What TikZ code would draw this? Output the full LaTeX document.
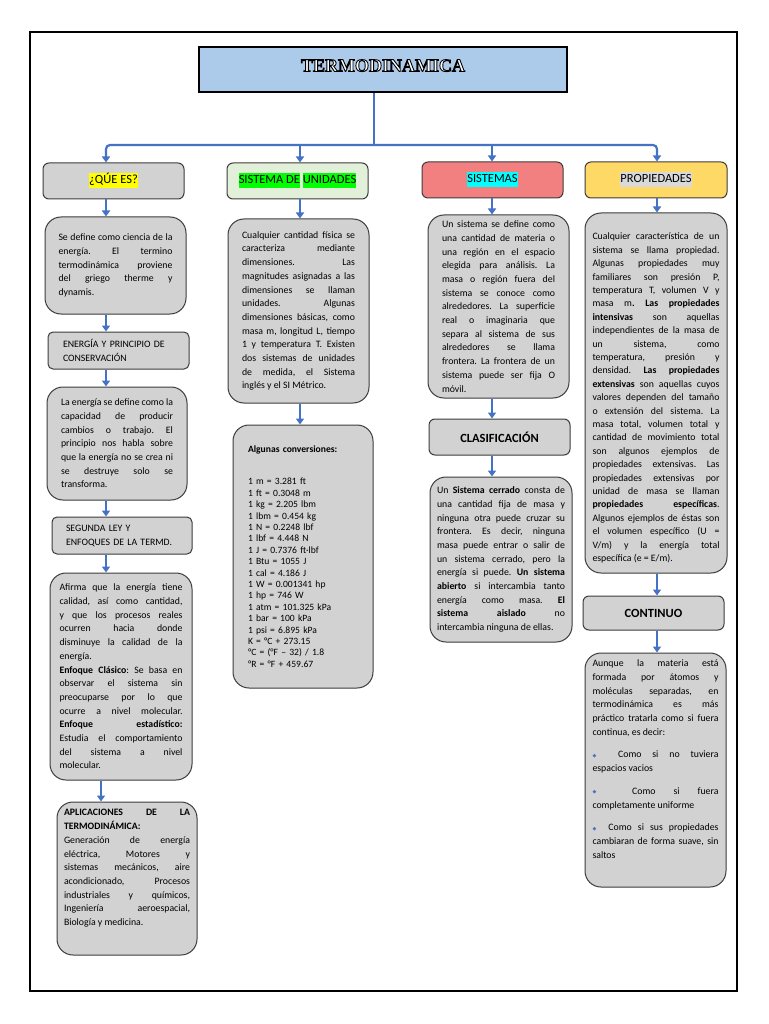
\documentclass[tikz,border=0pt]{standalone}
\usepackage{fontspec}
\setmainfont{Carlito}
\newfontfamily\titlefont{Liberation Serif}
\newfontfamily\symfont{DejaVu Sans}
\usetikzlibrary{arrows.meta}
\hyphenpenalty=10000 \exhyphenpenalty=10000 \hbadness=10000 \hfuzz=20pt
\frenchspacing
\definecolor{boxgray}{RGB}{210,210,210}
\definecolor{bordergray}{RGB}{60,60,60}
\definecolor{arrblue}{RGB}{68,114,196}
\definecolor{titleblue}{RGB}{172,202,234}
\definecolor{lgreen}{RGB}{226,240,217}
\definecolor{csalmon}{RGB}{242,128,128}
\definecolor{cgold}{RGB}{255,217,102}
\definecolor{hlyellow}{RGB}{255,255,0}
\definecolor{hlgreen}{RGB}{0,255,0}
\definecolor{hlcyan}{RGB}{0,255,255}
\definecolor{hlgray}{RGB}{217,217,217}
\newcommand{\hlt}[2]{{\setlength{\fboxsep}{0pt}\colorbox{#1}{\strut #2}}}
\newcommand{\bul}{{\symfont\fontsize{5}{6}\selectfont\color{arrblue}\raisebox{0.6pt}{◆}}}
\newcommand{\outlined}[1]{{\color{white}\special{pdf:literal direct 2 Tr 0.9 w 0 0 0 RG}#1\special{pdf:literal direct 0 Tr}}}
\newcommand{\lowpad}[1]{\rule[-#1]{0pt}{1pt}}
\newcommand{\toppad}[1]{\rule{0pt}{#1}}
\tikzset{
  hdr/.style={draw=bordergray, line width=1pt, rounded corners=6pt, inner sep=0pt,
    minimum width=141pt, minimum height=36pt, font=\fontsize{12.5}{15}\selectfont},
  txt/.style={draw=bordergray, line width=1pt, fill=boxgray, rounded corners=16pt,
    align=justify, inner sep=0pt, font=\fontsize{9.8}{13.7}\selectfont},
  lab/.style={draw=bordergray, line width=1pt, fill=boxgray, rounded corners=5pt,
    align=left, inner sep=0pt, minimum width=141pt, minimum height=37pt,
    font=\fontsize{9.8}{14}\selectfont},
  arr/.style={draw=arrblue, line width=2.2pt, -{Triangle[length=6pt,width=8pt]}},
  trunk/.style={draw=arrblue, line width=2.2pt},
}
\begin{document}
\begin{tikzpicture}[x=1pt,y=-1pt]
\useasboundingbox (0,0) rectangle (768,1024);
\fill[white] (0,0) rectangle (768,1024);
\draw[line width=2pt] (30,32) rectangle (737,991);

% title
\node[draw=black, line width=1.8pt, fill=titleblue, minimum width=368pt, minimum height=45pt, inner sep=0pt,
  font=\titlefont\bfseries\fontsize{18}{21}\selectfont] (title) at (383,69.5) {\raisebox{8pt}{\outlined{TERMODINAMICA}}};

% column anchors
\coordinate (hub) at (374,145);
\coordinate (a1) at (106,0);
\coordinate (a1b) at (101,0);
\coordinate (a2) at (300,0);
\coordinate (a3) at (492,0);
\coordinate (a4) at (657,0);

% headers
\node[hdr, fill=boxgray] (h1) at (113.5,181) {\hlt{hlyellow}{¿QÚE ES?}};
\node[hdr, fill=lgreen] (h2) at (297.5,181) {\hlt{hlgreen}{SISTEMA DE} \hlt{hlgreen}{UNIDADES}};
\node[hdr, fill=csalmon] (h3) at (492.5,180) {\hlt{hlcyan}{SISTEMAS}};
\node[hdr, fill=cgold, minimum width=142pt] (h4) at (656,180) {\hlt{hlgray}{PROPIEDADES}};

% column 1
\node[txt, minimum width=141pt, minimum height=97pt, text width=114pt] (c1b) at (115.5,265.5)
 {Se define como ciencia de la\linebreak energía. El termino\linebreak termodinámica proviene\linebreak del griego therme y\linebreak dynamis.};
\node[lab, text width=111pt] (c1c) at (118.5,350.5) {ENERGÍA Y PRINCIPIO DE\\CONSERVACIÓN};
\node[txt, minimum width=140pt, minimum height=113pt, text width=112pt] (c1d) at (117,443.5)
 {La energía se define como la\linebreak capacidad de producir\linebreak cambios o trabajo. El\linebreak principio nos habla sobre\linebreak que la energía no se crea ni\linebreak se destruye solo se\linebreak transforma.};
\node[lab, minimum width=140pt, text width=112pt] (c1e) at (122,535.5) {SEGUNDA LEY Y\\ENFOQUES DE LA TERMD.};
\node[txt, minimum width=142pt, minimum height=207pt, text width=123pt] (c1f) at (121,676.5)
 {Afirma que la energía tiene\linebreak calidad, así como cantidad,\linebreak y que los procesos reales\linebreak ocurren hacia donde\linebreak disminuye la calidad de la\linebreak energía.\\
 \textbf{Enfoque Clásico}: Se basa en\linebreak observar el sistema sin\linebreak preocuparse por lo que\linebreak ocurre a nivel molecular.\linebreak \textbf{Enfoque estadístico:}\linebreak Estudia el comportamiento\linebreak del sistema a nivel\linebreak molecular.};
\node[txt, minimum width=140pt, minimum height=153pt, text width=126pt] (c1g) at (127,878.5)
 {\textbf{APLICACIONES DE LA\linebreak TERMODINÁMICA:}\linebreak Generación de energía\linebreak eléctrica, Motores y\linebreak sistemas mecánicos, aire\linebreak acondicionado, Procesos\linebreak industriales y químicos,\linebreak Ingeniería aeroespacial,\linebreak Biología y medicina.\lowpad{22pt}};

% column 2
\node[txt, minimum width=141pt, minimum height=184pt, text width=113pt] (c2b) at (298.5,311)
 {Cualquier cantidad física se\linebreak caracteriza mediante\linebreak dimensiones. Las\linebreak magnitudes asignadas a las\linebreak dimensiones se llaman\linebreak unidades. Algunas\linebreak dimensiones básicas, como\linebreak masa m, longitud L, tiempo\linebreak 1 y temperatura T. Existen\linebreak dos sistemas de unidades\linebreak de medida, el Sistema\linebreak inglés y el SI Métrico.};
\node[txt, align=left, minimum width=140pt, minimum height=263pt, text width=110pt,
  font=\fontsize{9.6}{11.4}\selectfont] (c2c) at (303,556.5)
 {\textbf{Algunas conversiones:}\\[21pt]
 1 m = 3.281 ft\\ 1 ft = 0.3048 m\\ 1 kg = 2.205 lbm\\ 1 lbm = 0.454 kg\\ 1 N = 0.2248 lbf\\
 1 lbf = 4.448 N\\ 1 J = 0.7376 ft·lbf\\ 1 Btu = 1055 J\\ 1 cal = 4.186 J\\ 1 W = 0.001341 hp\\
 1 hp = 746 W\\ 1 atm = 101.325 kPa\\ 1 bar = 100 kPa\\ 1 psi = 6.895 kPa\\ K = °C + 273.15\\
 °C = (°F – 32) / 1.8\\ °R = °F + 459.67};

% column 3
\node[txt, minimum width=141pt, minimum height=183pt, text width=113pt] (c3b) at (498.5,306.5)
 {Un sistema se define como\linebreak una cantidad de materia o\linebreak una región en el espacio\linebreak elegida para análisis. La\linebreak masa o región fuera del\linebreak sistema se conoce como\linebreak alrededores. La superficie\linebreak real o imaginaria que\linebreak separa al sistema de sus\linebreak alrededores se llama\linebreak frontera. La frontera de un\linebreak sistema puede ser fija O\linebreak móvil.};
\node[hdr, fill=boxgray, font=\bfseries\fontsize{12.5}{15}\selectfont] (c3c) at (499.5,437) {CLASIFICACIÓN};
\node[txt, minimum width=142pt, minimum height=165pt, text width=128pt] (c3d) at (501,559.5)
 {Un \textbf{Sistema cerrado} consta de\linebreak una cantidad fija de masa y\linebreak ninguna otra puede cruzar su\linebreak frontera. Es decir, ninguna\linebreak masa puede entrar o salir de\linebreak un sistema cerrado, pero la\linebreak energía si puede. \textbf{Un sistema\linebreak abierto} si intercambia tanto\linebreak energía como masa. \textbf{El\linebreak sistema aislado} no\linebreak intercambia ninguna de ellas.};

% column 4
\node[txt, minimum width=142pt, minimum height=360pt, text width=127pt, font=\fontsize{9.8}{13.4}\selectfont] (c4b) at (656,393)
 {\toppad{17pt}Cualquier característica de un\linebreak sistema se llama propiedad.\linebreak Algunas propiedades muy\linebreak familiares son presión P,\linebreak temperatura T, volumen V y\linebreak masa m\textbf{. Las propiedades\linebreak intensivas} son aquellas\linebreak independientes de la masa de\linebreak un sistema, como\linebreak temperatura, presión y\linebreak densidad. \textbf{Las propiedades\linebreak extensivas} son aquellas cuyos\linebreak valores dependen del tamaño\linebreak o extensión del sistema. La\linebreak masa total, volumen total y\linebreak cantidad de movimiento total\linebreak son algunos ejemplos de\linebreak propiedades extensivas. Las\linebreak propiedades extensivas por\linebreak unidad de masa se llaman\linebreak \textbf{propiedades específicas}.\linebreak Algunos ejemplos de éstas son\linebreak el volumen específico (U =\linebreak V/m) y la energía total\linebreak específica (e = E/m).};
\node[hdr, fill=boxgray, minimum height=34pt, font=\bfseries\fontsize{12.5}{15}\selectfont] (c4c) at (653.5,613) {CONTINUO};
\node[txt, minimum width=141pt, minimum height=234pt, text width=126pt] (c4d) at (655.5,770)
 {Aunque la materia está\linebreak formada por átomos y\linebreak moléculas separadas, en\linebreak termodinámica es más\linebreak práctico tratarla como si fuera\linebreak continua, es decir:\\[9pt]
 \bul~~Como si no tuviera\linebreak espacios vacios\\[9pt]
 \bul~~Como si fuera\linebreak completamente uniforme\\[9pt]
 \bul~~Como si sus propiedades\linebreak cambiaran de forma suave, sin\linebreak saltos\lowpad{22pt}};

% trunk and branches
\draw[trunk] (title.south -| hub) -- (hub);
\draw[arr, rounded corners=4pt] (hub) -| (h1.north -| a1);
\draw[arr] (hub) -| (h2.north -| a2);
\draw[arr] (hub) -| (h3.north -| a3);
\draw[arr, rounded corners=4pt] (hub) -| (h4.north -| a4);

% column arrows
\draw[arr] (h1.south -| a1) -- (c1b.north -| a1);
\draw[arr] (c1b.south -| a1) -- (c1c.north -| a1);
\draw[arr] (c1c.south -| a1) -- (c1d.north -| a1);
\draw[arr] (c1d.south -| a1) -- (c1e.north -| a1);
\draw[arr] (c1e.south -| a1) -- (c1f.north -| a1);
\draw[arr] (c1f.south -| a1b) -- (c1g.north -| a1b);
\draw[arr] (h2.south -| a2) -- (c2b.north -| a2);
\draw[arr] (c2b.south -| a2) -- (c2c.north -| a2);
\draw[arr] (h3.south -| a3) -- (c3b.north -| a3);
\draw[arr] (c3b.south -| a3) -- (c3c.north -| a3);
\draw[arr] (c3c.south -| a3) -- (c3d.north -| a3);
\draw[arr] (h4.south -| a4) -- (c4b.north -| a4);
\draw[arr] (c4b.south -| a4) -- (c4c.north -| a4);
\draw[arr] (c4c.south -| a4) -- (c4d.north -| a4);
\end{tikzpicture}
\end{document}
